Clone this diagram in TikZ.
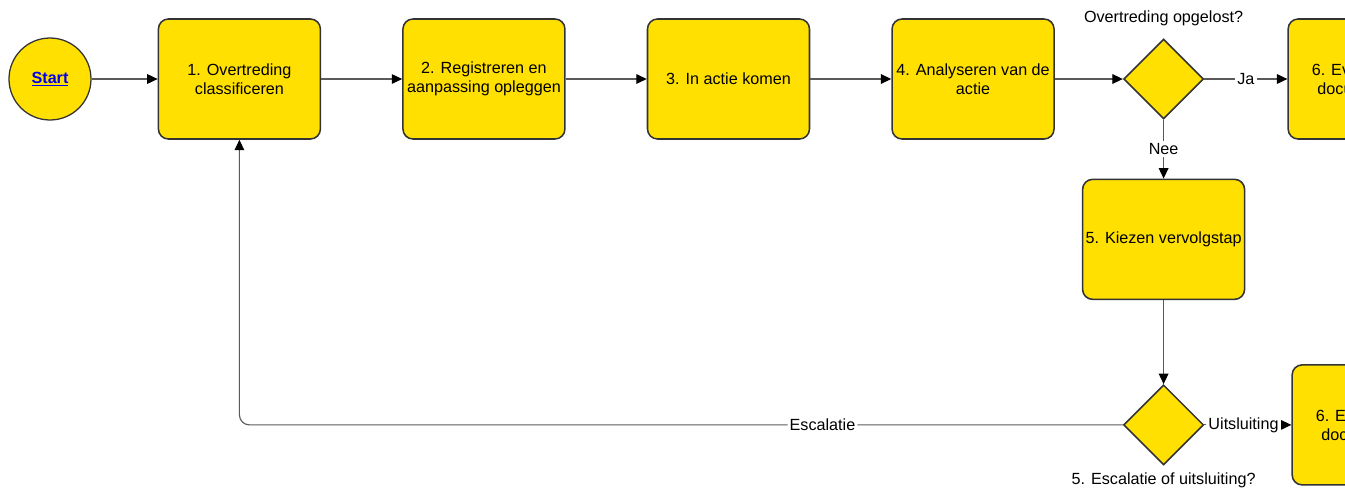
\documentclass[tikz,border=0pt]{standalone}
\usepackage{fontspec}
\setmainfont{Liberation Sans}
\usetikzlibrary{positioning,shapes.geometric,arrows.meta,calc}
\definecolor{stepyellow}{HTML}{FFE000}
\definecolor{stepline}{HTML}{333333}
\definecolor{flowgrey}{HTML}{5A5A5A}
\definecolor{linkblue}{HTML}{0000EE}
\tikzset{
  stepbox/.style={draw=stepline, fill=stepyellow, rounded corners=2.5mm, align=center,
    minimum width=4.05cm, minimum height=3.0cm, line width=1.1pt, inner sep=2pt},
  decision/.style={diamond, draw=stepline, fill=stepyellow, aspect=1, inner sep=0pt,
    minimum width=2cm, minimum height=2cm, line width=1.1pt},
  startnode/.style={circle, draw=stepline, fill=stepyellow, minimum size=2.05cm,
    inner sep=0pt, line width=0.9pt},
  flow/.style={-{Triangle[length=2.6mm, width=2.4mm, black]}, line width=0.8pt, draw=flowgrey},
  flowlab/.style={fill=white, inner sep=1.5pt, text=black},
  quest/.style={inner sep=1.5pt, text=black},
}

\begin{document}
\begin{tikzpicture}[font=\fontsize{11.5}{13.5}\selectfont]
\useasboundingbox (0,0) rectangle (33.625,-12.175);
\clip (0,0) rectangle (33.625,-12.175);
% main row
\node[startnode] (start) at (1.25,-1.975) {\textcolor{linkblue}{\underline{\textbf{Start}}}};
\node[stepbox, right=1.65cm of start] (s1) {1. Overtreding\\classificeren};
\node[stepbox, right=2.025cm of s1] (s2) {2. Registreren en\\aanpassing opleggen};
\node[stepbox, right=2.025cm of s2] (s3) {3. In actie komen};
\node[stepbox, right=2.025cm of s3] (s4) {4. Analyseren van de\\actie};
\node[decision, right=1.7cm of s4] (d1) {};
\node[quest, above=2.4mm of d1] (d1lab) {Overtreding opgelost?};
\node[stepbox, right=2.075cm of d1] (s6) {6. Evalueren en\\documenteren};
% follow-up column
\node[stepbox, below=1.47cm of d1] (s5) {5. Kiezen vervolgstap};
\node[decision, below=2.1cm of s5] (d2) {};
\node[quest, below=1.2mm of d2] (d2lab) {5. Escalatie of uitsluiting?};
\node[stepbox, right=2.175cm of d2] (s6b) {6. Evalueren en\\documenteren};
% flows
\draw[flow] (start) -- (s1);
\draw[flow] (s1) -- (s2);
\draw[flow] (s2) -- (s3);
\draw[flow] (s3) -- (s4);
\draw[flow] (s4) -- (d1);
\draw[flow] (d1) -- node[flowlab] {Ja} (s6);
\draw[flow] (d1) -- node[flowlab] {Nee} (s5);
\draw[flow] (s5) -- (d2);
\draw[flow] (d2) -- node[flowlab, pos=0.45] {Uitsluiting} (s6b);
\draw[flow, rounded corners=2.5mm] (d2.west) -| node[flowlab, pos=0.17] {Escalatie} (s1.south);
\end{tikzpicture}
\end{document}
